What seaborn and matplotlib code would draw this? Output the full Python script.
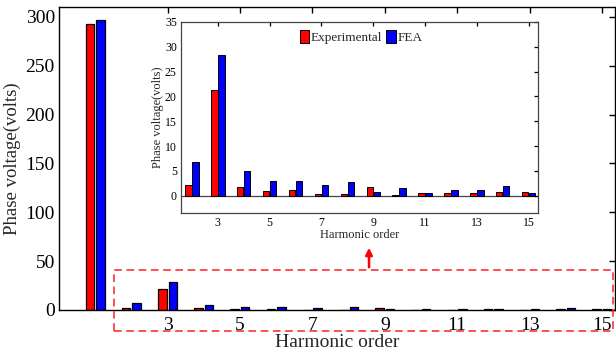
import matplotlib
matplotlib.use("Agg")
import matplotlib.pyplot as plt
from matplotlib.patches import Rectangle, FancyArrowPatch
import numpy as np
import pandas as pd
import seaborn as sns

# Harmonic spectrum of the phase voltage
harmonics = list(range(1, 16))
experimental = [293, 2.1, 21.2, 1.7, 1.0, 1.1, 0.4, 0.4, 1.8, 0.15, 0.5, 0.6, 0.5, 0.8, 0.8]
fea = [297, 6.7, 28.3, 4.9, 3.0, 3.05, 2.1, 2.8, 0.65, 1.5, 0.6, 1.2, 1.1, 2.0, 0.6]
series_names = ["Experimental", "FEA"]
series_colors = ["#ff0000", "#0000ff"]
tick_harmonics = [3, 5, 7, 9, 11, 13, 15]
main_yticks = [0, 50, 100, 150, 200, 250, 300]
inset_yticks = [0, 5, 10, 15, 20, 25, 30, 35]

sns.set_theme(style="white")
plt.rcParams["font.family"] = ["Liberation Serif", "DejaVu Serif"]
plt.rcParams["mathtext.fontset"] = "stix"

W, H = 616, 353
fig = plt.figure(figsize=(W / 100, H / 100), dpi=100)


def long_table(hs, a, b):
    return pd.DataFrame({
        "order": hs * 2,
        "voltage": list(a) + list(b),
        "source": [series_names[0]] * len(hs) + [series_names[1]] * len(hs),
    })


def style_axes(ax, lw, size, length):
    for s in ax.spines.values():
        s.set_visible(True)
        s.set_color("black")
        s.set_linewidth(lw)
    ax.tick_params(direction="in", top=True, right=True, length=length,
                   width=lw, labelsize=size, colors="black", pad=3)


# ---- main axes ----
ax = fig.add_axes([59 / W, 1 - 310 / H, 556 / W, 303 / H])
df_all = long_table(harmonics, experimental, fea)
sns.barplot(data=df_all, x="order", y="voltage", hue="source",
            hue_order=series_names, palette=series_colors, saturation=1,
            width=0.58, gap=0.19, edgecolor="black", linewidth=0.9,
            legend=False, ax=ax)
ax.set_xlim(-1.0, 14.36)
ax.set_ylim(0, 310)
ax.set_xticks([h - harmonics[0] for h in tick_harmonics])
ax.set_xticklabels([str(h) for h in tick_harmonics])
ax.set_yticks(main_yticks)
style_axes(ax, 1.0, 14, 4)
ax.tick_params(axis="x", pad=5)
ax.set_xlabel("Harmonic order", fontsize=14, labelpad=0)
ax.set_ylabel("Phase voltage(volts)", fontsize=13.5, labelpad=3)

# ---- inset (harmonics 2..15) ----
axi = fig.add_axes([181 / W, 1 - 213 / H, 357 / W, 191 / H])
axi.set_facecolor("white")
df_inset = long_table(harmonics[1:], experimental[1:], fea[1:])
sns.barplot(data=df_inset, x="order", y="voltage", hue="source",
            hue_order=series_names, palette=series_colors, saturation=1,
            width=0.54, gap=0.08, edgecolor="black", linewidth=0.7,
            ax=axi)
axi.axhline(0, color="#444444", lw=0.9, zorder=0.5)
axi.set_xlim(-0.42, 13.36)
axi.set_ylim(-3.5, 35)
axi.set_xticks([h - harmonics[1] for h in tick_harmonics])
axi.set_xticklabels([str(h) for h in tick_harmonics])
axi.set_yticks(inset_yticks)
style_axes(axi, 0.9, 8.5, 3)
for s in axi.spines.values():
    s.set_color("#444444")
axi.set_xlabel("Harmonic order", fontsize=9, labelpad=0)
axi.set_ylabel("Phase voltage(volts)", fontsize=9, labelpad=1)
axi.legend(loc="center left", bbox_to_anchor=(0.31, 0.92), ncol=2,
           frameon=False, fontsize=9.5, handlelength=0.75, handleheight=1.1,
           handletextpad=0.1, columnspacing=0.3, borderpad=0.1)

# ---- zoom callout: dashed box and arrow pointing to the inset ----
box = Rectangle((114 / W, 1 - 331 / H), (613 - 114) / W, (331 - 270) / H,
                transform=fig.transFigure, fill=False, edgecolor="#ff2020",
                linewidth=1.1, linestyle=(0, (5, 3)))
fig.patches.append(box)
arrow = FancyArrowPatch((369 / W, 1 - 270 / H), (369 / W, 1 - 245 / H),
                        transform=fig.transFigure, arrowstyle="-|>",
                        mutation_scale=10, color="#ff0000", linewidth=1.8)
fig.patches.append(arrow)

fig.savefig("out.png", dpi=100)
